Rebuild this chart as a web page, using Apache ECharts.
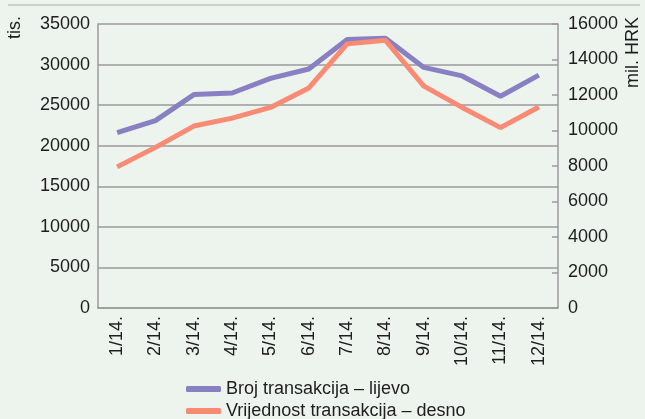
<!DOCTYPE html>
<html>
<head>
    <meta charset="utf-8">
    <title>ECharts</title>
    <script src="https://cdn.jsdelivr.net/npm/echarts@6/dist/echarts.min.js"></script>
    <style>
        html, body { margin: 0; padding: 0; background: #edf3ed; }
    </style>
</head>
<body>
<div id="main" style="width: 645px;height:419px;"></div>
<script type="text/javascript">

    var months = ['1/14.', '2/14.', '3/14.', '4/14.', '5/14.', '6/14.', '7/14.', '8/14.', '9/14.', '10/14.', '11/14.', '12/14.'];
    // broj transakcija, tis. (lijeva os)
    var brojTransakcija = [21600, 23100, 26300, 26500, 28300, 29450, 33100, 33250, 29650, 28600, 26100, 28700];
    // vrijednost transakcija, mil. HRK (desna os)
    var vrijednostTransakcija = [7950, 9050, 10250, 10700, 11300, 12400, 14880, 15080, 12500, 11300, 10160, 11320];
    var seriesNames = ['Broj transakcija – lijevo', 'Vrijednost transakcija – desno'];

    var fontFam = 'Liberation Sans, Arial, sans-serif';
    var fs = 18;
    var myChart = echarts.init(document.getElementById('main'));

    // bez separatora tisućica
    function plainNum(v) {
        return String(v);
    }

    function legendAt(name, top) {
        return {
            left: 181,
            top: top,
            itemWidth: 35,
            itemHeight: 6,
            icon: 'roundRect',
            textStyle: { fontSize: fs, color: '#1e1e1e', fontFamily: fontFam },
            data: [name]
        };
    }

    var option = {
        backgroundColor: '#edf3ed',
        animation: false,
        textStyle: { fontFamily: fontFam },
        grid: {
            left: 98,
            right: 87,
            top: 24,
            bottom: 111
        },
        legend: [
            legendAt(seriesNames[0], 375),
            legendAt(seriesNames[1], 397)
        ],
        graphic: [
            {
                type: 'line',
                shape: { x1: 8, y1: 5, x2: 640, y2: 5 },
                style: { stroke: '#a8aca8', lineWidth: 1 }
            },
            {
                type: 'text',
                x: 6, y: 39,
                rotation: Math.PI / 2,
                style: { text: 'tis.', fontSize: fs, fill: '#1e1e1e', fontFamily: fontFam }
            },
            {
                type: 'text',
                x: 624, y: 88,
                rotation: Math.PI / 2,
                style: { text: 'mil. HRK', fontSize: fs, fill: '#1e1e1e', fontFamily: fontFam }
            }
        ],
        xAxis: {
            type: 'category',
            data: months,
            boundaryGap: true,
            axisLine: { lineStyle: { color: '#9a9a9a', width: 1.5 } },
            axisTick: { show: false },
            axisLabel: {
                rotate: 90,
                fontSize: fs,
                color: '#1e1e1e',
                margin: 8,
                interval: 0
            }
        },
        yAxis: [
            {
                type: 'value',
                min: 0,
                max: 35000,
                interval: 5000,
                axisLine: { show: true, lineStyle: { color: '#9a9a9a', width: 1.5 } },
                axisTick: { show: false },
                splitLine: { lineStyle: { color: '#9a9a9a', width: 1.5 } },
                axisLabel: { fontSize: fs, color: '#1e1e1e', margin: 8, formatter: plainNum }
            },
            {
                type: 'value',
                position: 'right',
                min: 0,
                max: 16000,
                interval: 2000,
                axisLine: { show: true, lineStyle: { color: '#9a9a9a', width: 1.5 } },
                axisTick: { show: true, inside: true, length: 6, lineStyle: { color: '#9a9a9a', width: 1.5 } },
                splitLine: { show: false },
                axisLabel: { fontSize: fs, color: '#1e1e1e', margin: 10, formatter: plainNum }
            }
        ],
        series: [
            {
                name: seriesNames[0],
                type: 'line',
                yAxisIndex: 0,
                data: brojTransakcija,
                symbol: 'none',
                color: '#8880c2',
                lineStyle: { width: 5, color: '#8880c2' }
            },
            {
                name: seriesNames[1],
                type: 'line',
                yAxisIndex: 1,
                data: vrijednostTransakcija,
                symbol: 'none',
                color: '#f98b74',
                lineStyle: { width: 5, color: '#f98b74' }
            }
        ]
    };

    myChart.setOption(option);

</script>
</body>
</html>
